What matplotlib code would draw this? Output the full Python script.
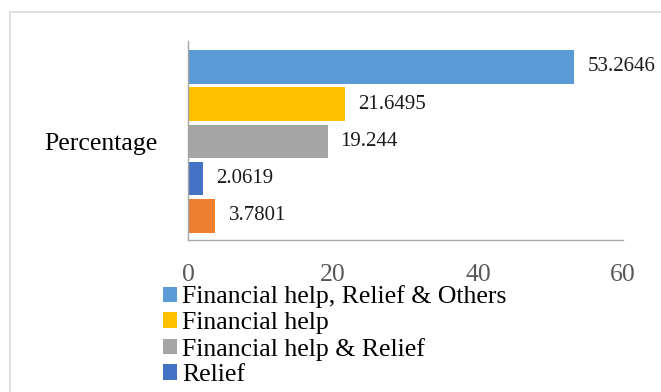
import matplotlib.pyplot as plt
from matplotlib.patches import Rectangle


# Share of respondents per type of support received
categories = ["Financial help, Relief & Others",
              "Financial help",
              "Financial help & Relief",
              "Relief",
              "Others"]
values = [53.2646, 21.6495, 19.244, 2.0619, 3.7801]
labels = ["53.2646", "21.6495", "19.244", "2.0619", "3.7801"]
colors = ["#5B9BD5", "#FFC000", "#A5A5A5", "#4472C4", "#ED7D31"]
group_label = "Percentage"
x_ticks = [0, 20, 40, 60]


def main():
    plt.rcParams["font.family"] = ["Liberation Serif", "DejaVu Serif"]

    fig = plt.figure(figsize=(6.61, 3.92), dpi=100)
    W, H = 661, 392

    # light frame around the chart area
    fig.patches.append(Rectangle((10 / W, -0.1), 1.2, 1.1 - 12 / H,
                                 transform=fig.transFigure, fill=False,
                                 edgecolor="#d9d9d9", linewidth=1.2))

    ax = fig.add_axes([188 / W, 1 - 240.5 / H, 435 / W, 199 / H])

    bars = []
    for i, (cat, v, c) in enumerate(zip(categories, values, colors)):
        bars.append(ax.barh(i, v, height=0.9, color=c, label=cat))
        ax.text(v + 1.8, i, labels[i], va="center", ha="left",
                fontsize=15, color="#1a1a1a")

    ax.set_xlim(0, 60)
    ax.set_ylim(4.66, -0.68)

    ax.set_xticks(x_ticks)
    ax.set_xticklabels([str(t) for t in x_ticks])
    ax.tick_params(axis="x", length=0, pad=17, labelsize=18.5, labelcolor="#595959")
    ax.set_yticks([2])
    ax.set_yticklabels([group_label])
    ax.tick_params(axis="y", length=0, pad=22, labelsize=18.5, labelcolor="#000000")

    ax.spines["right"].set_visible(False)
    ax.spines["top"].set_visible(False)
    ax.spines["left"].set_color("#a6a6a6")
    ax.spines["bottom"].set_color("#a6a6a6")
    ax.spines["left"].set_linewidth(1.0)
    ax.spines["bottom"].set_linewidth(1.0)

    # legend runs past the bottom edge, only the first four rows fit
    fig.legend(bars[:4], categories[:4],
               loc="upper left", bbox_to_anchor=(163 / W, 1 - 285.5 / H),
               frameon=False, fontsize=18.5, borderpad=0, borderaxespad=0,
               labelspacing=0.14, handlelength=0.55, handleheight=0.55,
               handletextpad=0.2)

    fig.savefig("out.png", dpi=100)


if __name__ == "__main__":
    main()
